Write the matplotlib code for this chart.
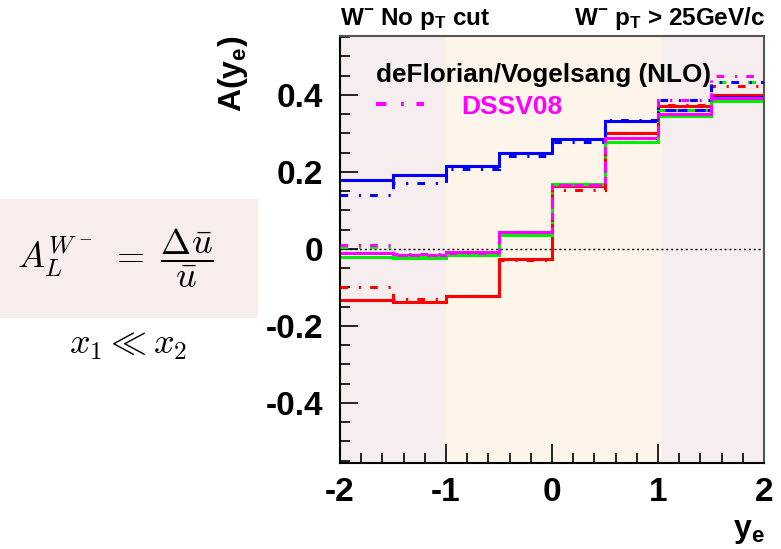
import matplotlib
matplotlib.use("Agg")
import matplotlib.pyplot as plt
from matplotlib.lines import Line2D
from matplotlib.patches import Rectangle
from matplotlib.ticker import MultipleLocator

plt.rcParams['font.family'] = ['Liberation Sans', 'DejaVu Sans']
plt.rcParams['font.weight'] = 'bold'
plt.rcParams['mathtext.fontset'] = 'custom'
plt.rcParams['mathtext.rm'] = 'Liberation Sans:bold'
plt.rcParams['mathtext.it'] = 'Liberation Sans:bold'
plt.rcParams['mathtext.bf'] = 'Liberation Sans:bold'

# rapidity bins
edges = [-2.0, -1.5, -1.0, -0.5, 0.0, 0.5, 1.0, 1.5, 2.0]

# no pT cut (solid)
blue_all = [0.180, 0.193, 0.215, 0.248, 0.285, 0.332, 0.362, 0.395]
red_all = [-0.132, -0.139, -0.121, -0.027, 0.163, 0.302, 0.371, 0.400]
green_all = [-0.020, -0.024, -0.017, 0.037, 0.169, 0.278, 0.345, 0.383]
magenta_all = [-0.011, -0.016, -0.008, 0.045, 0.166, 0.287, 0.350, 0.391]

# pT > 25 GeV/c (dash-dot)
blue_cut = [0.139, 0.170, 0.207, 0.241, 0.278, 0.334, 0.388, 0.433]
red_cut = [-0.100, -0.130, -0.123, -0.030, 0.154, 0.302, 0.373, 0.424]
green_cut = [0.004, -0.022, -0.016, 0.035, 0.168, 0.278, 0.362, 0.433]
magenta_cut = [0.009, -0.013, -0.010, 0.045, 0.165, 0.287, 0.386, 0.449]

ytick_vals = [-0.4, -0.2, 0.0, 0.2, 0.4]
ytick_labels = ["-0.4", "-0.2", "0", "0.2", "0.4"]
xtick_vals = [-2, -1, 0, 1, 2]

W, H = 781, 549
fig = plt.figure(figsize=(W / 100, H / 100), dpi=100)
ax = fig.add_axes([340 / W, 1 - 463 / H, 424 / W, 427 / H])

pink = '#f6eeee'
cream = '#fdf5e9'
ax.axvspan(-2, -1, color=pink, lw=0, zorder=0)
ax.axvspan(-1, 1.04, color=cream, lw=0, zorder=0)
ax.axvspan(1.04, 2, color=pink, lw=0, zorder=0)

ax.axhline(0, color='black', lw=1, ls=(0, (1.5, 2)), zorder=1)

dashdot = (0, (2.5, 3.5, 0.7, 3.0))
lw = 2.2
for vals, c in [(red_all, 'red'), (green_all, '#00f000'), (blue_all, 'blue'), (magenta_all, 'magenta')]:
    ax.stairs(vals, edges, baseline=None, color=c, lw=lw, zorder=2)
for vals, c in [(red_cut, 'red'), (green_cut, '#00f000'), (blue_cut, 'blue'), (magenta_cut, 'magenta')]:
    ax.stairs(vals, edges, baseline=None, color=c, lw=lw, ls=dashdot, zorder=3)

ax.set_xlim(-2, 2)
ax.set_ylim(-0.556, 0.553)
ax.set_xticks(xtick_vals)
ax.set_xticklabels([str(v) for v in xtick_vals])
ax.xaxis.set_minor_locator(MultipleLocator(0.2))
ax.set_yticks(ytick_vals)
ax.set_yticklabels(ytick_labels)
ax.yaxis.set_minor_locator(MultipleLocator(0.05))
ax.tick_params(axis='both', which='both', direction='in', labelsize=24, width=1.2, color='black')
ax.tick_params(axis='x', which='major', length=14, pad=10)
ax.tick_params(axis='x', which='minor', length=7)
ax.tick_params(axis='y', which='major', length=13, pad=12)
ax.tick_params(axis='y', which='minor', length=7)
for lab in ax.get_xticklabels() + ax.get_yticklabels():
    lab.set_fontweight('bold')
for s in ax.spines.values():
    s.set_linewidth(1.5)
ax.spines['top'].set_color('#555555')
ax.spines['right'].set_color('#555555')

h = Line2D([], [], color='magenta', lw=3, ls=dashdot)
leg = ax.legend([h], ['DSSV08'], title='deFlorian/Vogelsang (NLO)', loc='upper left',
                bbox_to_anchor=(0.03, 0.993), frameon=False, alignment='left',
                handlelength=1.8, handletextpad=1.4, labelspacing=0.3, labelcolor='magenta',
                prop={'size': 19, 'weight': 'bold'},
                title_fontproperties={'size': 18.8, 'weight': 'bold'})

fig.text(340 / W, 1 - 25 / H, r'W$^{-}$ No p$_{T}$ cut', fontsize=17.5, fontweight='bold', ha='left', va='baseline')
fig.text(765 / W, 1 - 25 / H, r'W$^{-}$ p$_{T}$ > 25GeV/c', fontsize=17.5, fontweight='bold', ha='right', va='baseline')
fig.text(233 / W, 1 - 36 / H, r'A(y$_{e}$)', fontsize=23, fontweight='bold', rotation=90, ha='center', va='top')
fig.text(765 / W, 3 / H, r'y$_{e}$', fontsize=23, fontweight='bold', ha='right', va='bottom')

fig.patches.append(Rectangle((0, 1 - 318 / H), 258 / W, 119 / H, transform=fig.transFigure,
                             facecolor='#f7eeec', edgecolor='none', zorder=0))
fig.text(115 / W, 1 - 258 / H, r'$A_L^{W^-}\ =\ \dfrac{\Delta\bar{u}}{\bar{u}}$', fontsize=26,
         math_fontfamily='cm', ha='center', va='center', fontweight='normal')
fig.text(128 / W, 1 - 345 / H, r'$x_1 \ll x_2$', fontsize=26, math_fontfamily='cm',
         ha='center', va='center', fontweight='normal')

fig.savefig('out.png', dpi=100)
